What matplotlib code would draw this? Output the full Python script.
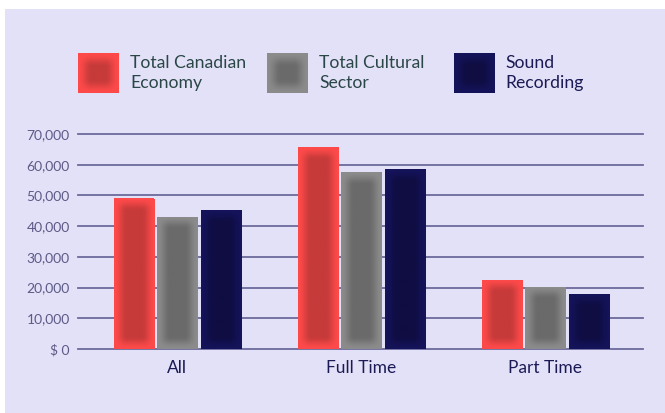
import numpy as np
import matplotlib as mpl
mpl.use('Agg')
import matplotlib.pyplot as plt
from matplotlib.patches import Rectangle
from matplotlib.colors import to_rgb

categories = ['All', 'Full Time', 'Part Time']
series = ['Total Canadian\nEconomy', 'Total Cultural\nSector', 'Sound\nRecording']
canadian = [49000, 65700, 22500]
cultural = [43100, 57600, 20200]
sound = [45200, 58600, 17900]
yticks = [0, 10000, 20000, 30000, 40000, 50000, 60000, 70000]
ytick_labels = ['$ 0', '10,000', '20,000', '30,000', '40,000', '50,000', '60,000', '70,000']

# (edge colour, centre colour) of each series' glow
colors = [('#ff4a4a', '#c63a3a'), ('#8c8c8c', '#6a6a6a'), ('#15135a', '#0f0d42')]
text_colors = ['#2a4646', '#2a4646', '#1c1a55']
bg = '#e3e1f7'
grid_c = '#6c6a9c'

plt.rcParams['font.family'] = ['Lato', 'DejaVu Sans']


def glow(nw, nh, i, ramp=13):
    # soft inner glow: light rim fading into a darker centre
    e = np.array(to_rgb(colors[i][0]))
    c = np.array(to_rgb(colors[i][1]))
    xx = np.arange(nw) + 0.5
    yy = np.arange(nh) + 0.5
    sx = np.clip(np.minimum(xx, nw - xx) / ramp, 0, 1)
    sy = np.clip(np.minimum(yy, nh - yy) / ramp, 0, 1)
    sx = sx * sx * (3 - 2 * sx)
    sy = sy * sy * (3 - 2 * sy)
    t = sy[:, None] * sx[None, :]
    return e[None, None, :] + (c - e)[None, None, :] * t[:, :, None]


fig = plt.figure(figsize=(6.65, 4.13), dpi=100)
fig.patch.set_facecolor('white')
fig.add_artist(Rectangle((5 / 665, 0), 1, 1 - 9 / 413, transform=fig.transFigure,
                         facecolor=bg, edgecolor='none', zorder=0))

ax = fig.add_axes([78 / 665, 1 - 349 / 413, (643 - 78) / 665, (349 - 134) / 413])
ax.set_facecolor('none')
ax.set_xlim(-0.54, 2.53)
ax.set_ylim(0, 70000)
for s in ax.spines.values():
    s.set_visible(False)
for y in yticks:
    ax.axhline(y, color=grid_c, lw=1.3, zorder=1, clip_on=False)

ax.set_yticks(yticks)
ax.set_yticklabels(ytick_labels, fontsize=10, color='#5c5a86')
ax.tick_params(axis='y', length=0, pad=6)
x = np.arange(len(categories))
ax.set_xticks(x)
ax.set_xticklabels(categories, fontsize=12.5, color='#1c1a55')
ax.tick_params(axis='x', length=0, pad=8)

width = 0.218
step = 0.238
fig.canvas.draw()
for i, vals in enumerate([canadian, cultural, sound]):
    bars = ax.bar(x + (i - 1) * step, vals, width, color=colors[i][0],
                  edgecolor='none', zorder=2)
    for b in bars:
        x0, y0, w, h = b.get_x(), b.get_y(), b.get_width(), b.get_height()
        p0 = ax.transData.transform((x0, y0))
        p1 = ax.transData.transform((x0 + w, y0 + h))
        nw, nh = max(int(p1[0] - p0[0]), 2), max(int(p1[1] - p0[1]), 2)
        im = ax.imshow(glow(nw, nh, i), extent=(x0, x0 + w, y0, y0 + h),
                       aspect='auto', interpolation='bilinear', zorder=3)
        im.set_clip_path(b)

# legend
sq_x = [78, 267, 454]
tx_x = [130, 319, 505]
for i in range(3):
    lax = fig.add_axes([sq_x[i] / 665, 1 - 93 / 413, 41 / 665, 40 / 413])
    lax.imshow(glow(41, 40, i, ramp=14), aspect='auto', interpolation='bilinear')
    lax.axis('off')
    fig.text(tx_x[i] / 665, 1 - 73 / 413, series[i], fontsize=12.7,
             color=text_colors[i], va='center', ha='left', linespacing=1.25)

fig.savefig('out.png', dpi=100, facecolor=fig.get_facecolor())
